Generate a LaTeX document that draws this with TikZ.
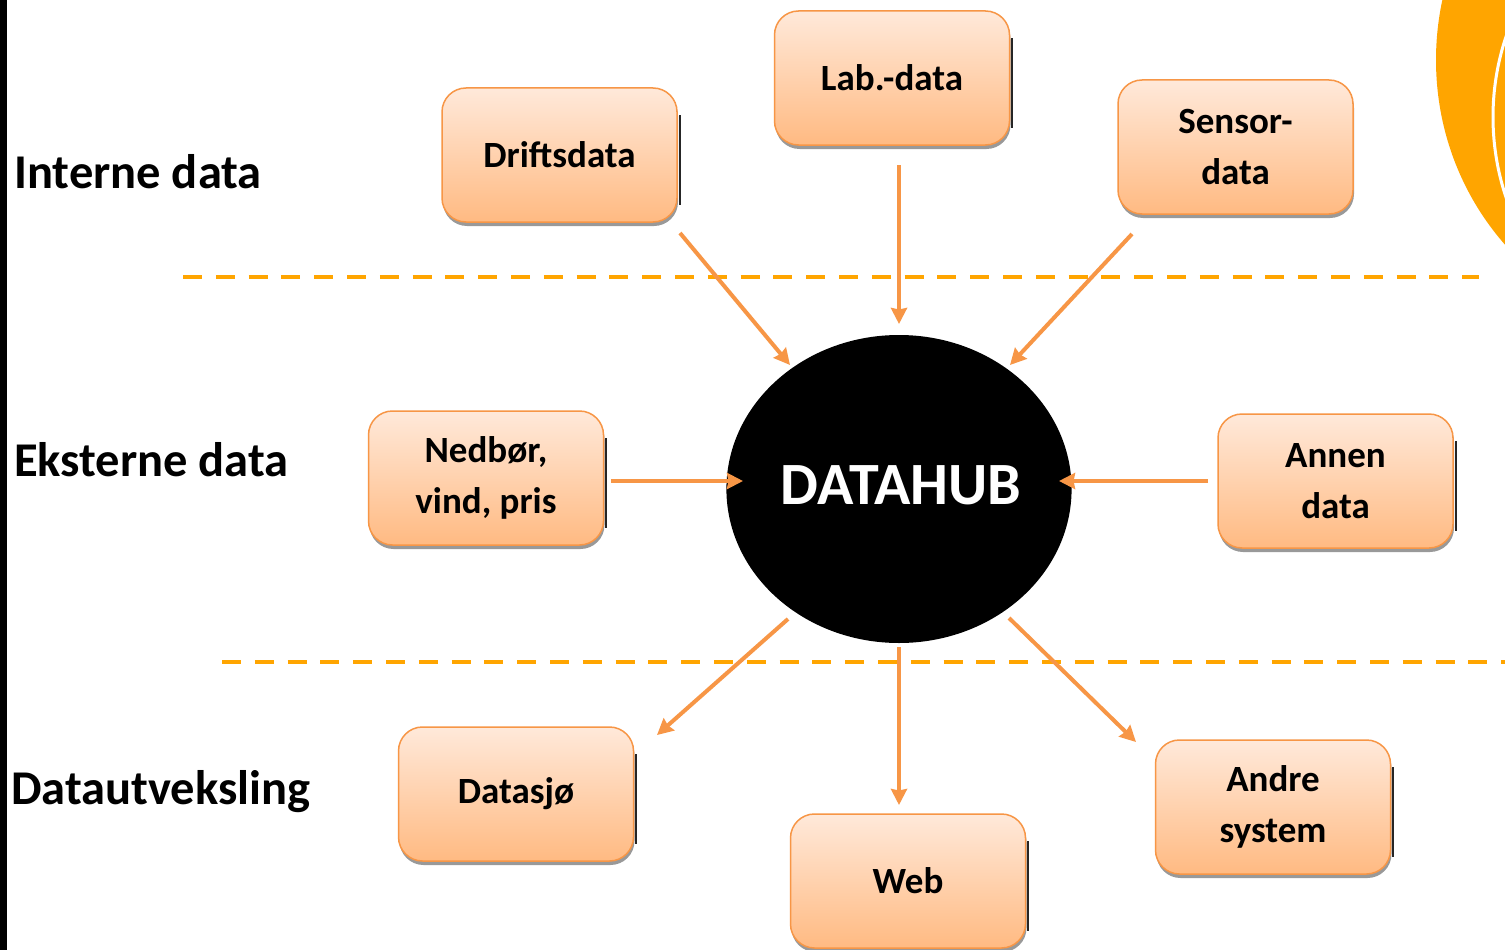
\documentclass[tikz,border=0pt]{standalone}
\usepackage{fontspec}
\setmainfont{Carlito}
\usetikzlibrary{arrows.meta,shapes.geometric,shadows}
\definecolor{boxline}{HTML}{F79646}
\definecolor{boxtop}{HTML}{FFE9DA}
\definecolor{boxbot}{HTML}{FFBA82}
\definecolor{dashcol}{HTML}{FFA500}
\tikzset{
  databox/.style={rectangle,rounded corners=24pt,minimum width=235pt,minimum height=134pt,inner sep=0pt,
    draw=boxline,line width=1.5pt,top color=boxtop,bottom color=boxbot,align=center,
    font=\fontsize{37}{51}\selectfont\bfseries,text=black,
    drop shadow={shadow xshift=1pt,shadow yshift=-4pt,fill=black,opacity=0.4}},
  heading/.style={anchor=base west,inner sep=0pt,font=\fontsize{48.5}{58}\selectfont\bfseries,text=black},
  hubnode/.style={ellipse,fill=black,minimum width=296pt,minimum height=308pt,inner sep=0pt,text=white,
    font=\fontsize{60}{70}\selectfont\bfseries},
  link/.style={draw=boxline,line width=4pt,-{Stealth[length=16pt,width=16pt,inset=1.5pt]}},
  sep/.style={draw=dashcol,line width=4pt,dash pattern=on 19pt off 13.8pt},
  edgebar/.style={draw=black!85,line width=2pt}
}
\begin{document}
\begin{tikzpicture}[x=1pt,y=-1pt]
\useasboundingbox (0,0) rectangle (1505,950);
\begin{scope}
\clip (0,0) rectangle (1505,950);
\fill[white] (0,0) rectangle (1505,950);
\fill[black] (0,0) rectangle (7,950);
\fill[dashcol] (1700,60) ellipse [x radius=264pt,y radius=274pt];
\draw[white,line width=3pt] (1746,117) circle [radius=253pt];
\end{scope}

\coordinate (sepAa) at (183,277);
\coordinate (sepAb) at (1479,277);
\coordinate (sepBa) at (222,662);
\coordinate (sepBb) at (1505,662);
\draw[sep] (sepAa) -- (sepAb);
\draw[sep] (sepBa) -- (sepBb);

\node[heading] (hInt) at (14,188) {Interne data};
\node[heading] (hEks) at (14,476) {Eksterne data};
\node[heading] (hDat) at (11,804) {Datautveksling};

\node[hubnode] (hub) at (899,489) {\hspace*{4pt}\raisebox{7pt}{DATAHUB}};

\node[databox] (drift) at (559.5,155) {Driftsdata};
\node[databox] (lab) at (892,78) {Lab.-data};
\node[databox] (sensor) at (1235.5,147) {Sensor-\\data};
\node[databox] (nedbor) at (486,478) {Nedbør,\\vind, pris};
\node[databox] (annen) at (1335.5,481) {Annen\\data};
\node[databox] (datasjo) at (516,794) {Datasjø};
\node[databox] (web) at (908,881) {Web};
\node[databox] (andre) at (1273,807) {Andre\\system};

\foreach \n in {drift,lab,nedbor,annen,datasjo,web,andre}
  \draw[edgebar] ([shift={(2,28)}]\n.north east) -- ([shift={(2,-18)}]\n.south east);

\draw[link] ([shift={(120.5,78)}]drift.center) -- ([shift={(-109,-124)}]hub.center);
\draw[link] ([shift={(7,87)}]lab.center) -- ([shift={(0,-165)}]hub.center);
\draw[link] ([shift={(-103.5,87)}]sensor.center) -- ([shift={(111,-124)}]hub.center);
\draw[link] ([shift={(125,3)}]nedbor.center) -- ([shift={(-156,-8)}]hub.center);
\draw[link] ([shift={(-127.5,0)}]annen.center) -- ([shift={(160,-8)}]hub.center);
\draw[link] ([shift={(-111,130)}]hub.center) -- ([shift={(141,-59)}]datasjo.center);
\draw[link] ([shift={(0,158)}]hub.center) -- ([shift={(-9,-76)}]web.center);
\draw[link] ([shift={(110,129)}]hub.center) -- ([shift={(-137,-65)}]andre.center);
\end{tikzpicture}
\end{document}
